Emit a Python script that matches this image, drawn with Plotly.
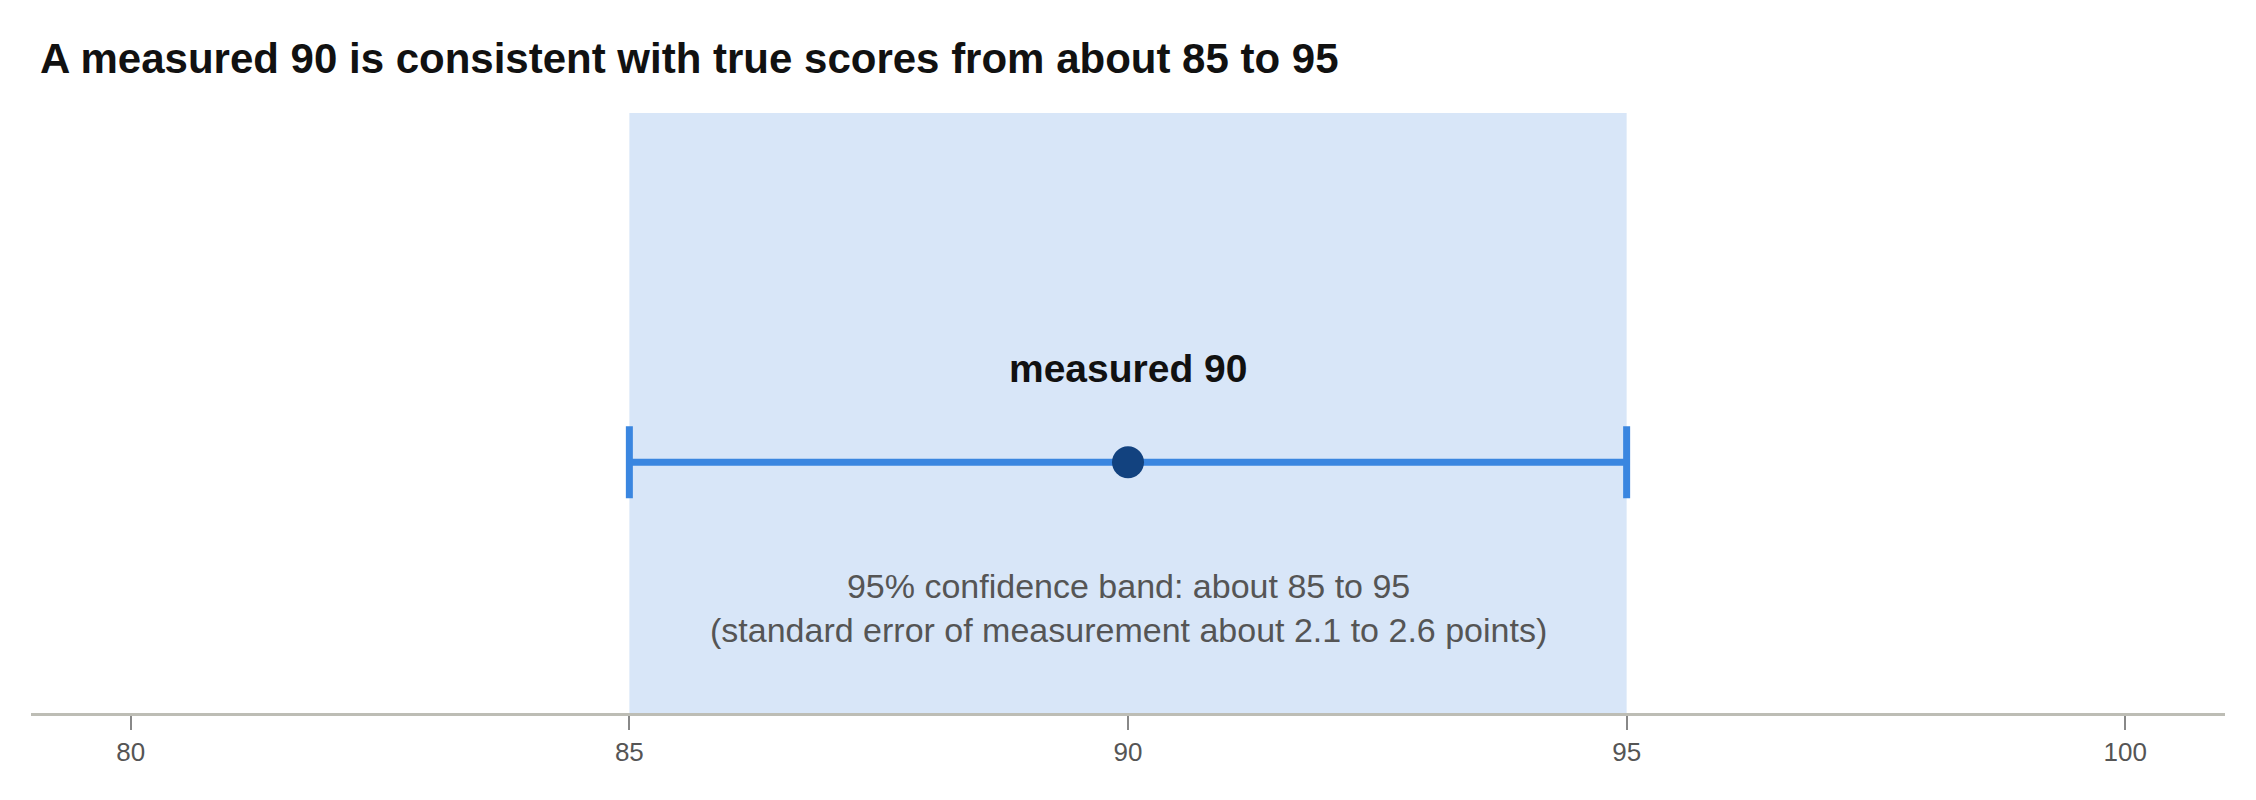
import plotly.graph_objects as go

measured = [90]
lower = [85]
upper = [95]
tick_vals = [80, 85, 90, 95, 100]
tick_text = ["80", "85", "90", "95", "100"]
title = "A measured 90 is consistent with true scores from about 85 to 95"
point_label = "measured 90"
band_text = "95% confidence band: about 85 to 95<br>(standard error of measurement about 2.1 to 2.6 points)"

FONT = "Liberation Sans, Arial, Helvetica, sans-serif"
fig = go.Figure()
fig.add_vrect(x0=lower[0], x1=upper[0], fillcolor="#d8e6f8", line_width=0, layer="below")
fig.add_trace(go.Scatter(
    x=measured, y=[0.418], mode="markers",
    marker=dict(size=32, color="#12427f"),
    error_x=dict(type="data", symmetric=False,
                 array=[upper[0] - measured[0]], arrayminus=[measured[0] - lower[0]],
                 color="#3a86e0", thickness=7, width=36),
    showlegend=False, hoverinfo="skip"))
fig.add_annotation(x=measured[0], y=0.575, text="<b>" + point_label + "</b>", showarrow=False,
                   font=dict(size=39, color="#111111", family=FONT))
fig.add_annotation(x=measured[0], y=0.175, text=band_text, showarrow=False,
                   font=dict(size=34, color="#555555", family=FONT))
fig.update_layout(
    width=2256, height=800, plot_bgcolor="white", paper_bgcolor="white",
    margin=dict(l=23, r=39, t=105, b=95),
    title=dict(text="<b>" + title + "</b>", x=0.0142, xanchor="left", y=0.937, yanchor="middle",
               font=dict(size=42, color="#111111", family=FONT)),
    xaxis=dict(range=[79, 101], tickvals=tick_vals, ticktext=tick_text, showgrid=False, zeroline=False,
               showline=True, linecolor="#bdbdb5", linewidth=3, ticks="outside", ticklen=14,
               tickcolor="#888888", tickwidth=1.5, tickfont=dict(size=26, color="#555555", family=FONT)),
    yaxis=dict(range=[0, 1], visible=False, showgrid=False, zeroline=False),
)
fig.write_html("out.html")
